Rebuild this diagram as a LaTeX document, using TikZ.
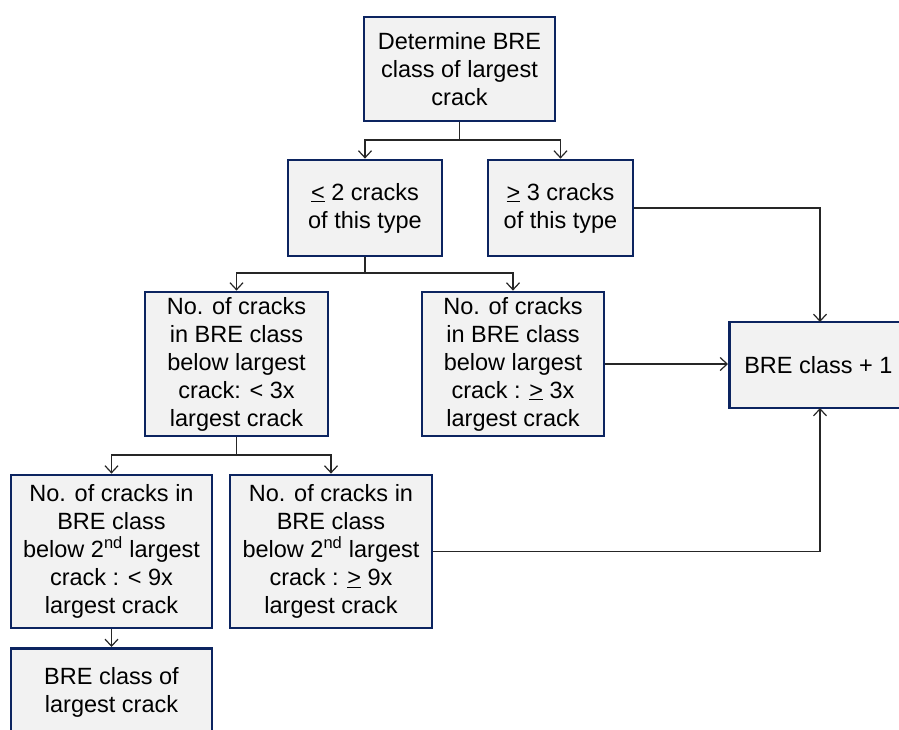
\documentclass[tikz,border=0pt]{standalone}
\usepackage{fontspec}
\setmainfont{Liberation Sans}
\usetikzlibrary{arrows.meta}
\definecolor{boxfill}{RGB}{242,242,242}
\definecolor{boxline}{RGB}{12,36,96}
\tikzset{
  box/.style={draw=boxline, fill=boxfill, line width=2.8pt, align=center, inner sep=0pt,
    font=\fontsize{23.5}{28}\selectfont},
  conn/.style={line width=1.2pt, draw=black!85, -{Straight Barb[length=7pt,width=13pt,line width=1.2pt]}},
  plain/.style={line width=1.2pt, draw=black!85}
}
\begin{document}
\begin{tikzpicture}[x=1pt,y=-1pt]
\useasboundingbox (0,0) rectangle (899,729);
\node[box, minimum width=191pt, minimum height=104pt] (top) at (459.5,69) {Determine BRE\\class of largest\\crack};
\node[box, minimum width=154pt, minimum height=96pt] (le2) at (365,208) {\underline{<} 2 cracks\\of this type};
\node[box, minimum width=145pt, minimum height=96pt] (ge3) at (560.5,208) {\underline{>} 3 cracks\\of this type};
\node[box, minimum width=183pt, minimum height=144pt] (ml) at (236.5,364) {No. of cracks\\in BRE class\\below largest\\crack: < 3x\\largest crack};
\node[box, minimum width=182pt, minimum height=144pt] (mr) at (513,364) {No. of cracks\\in BRE class\\below largest\\crack : \underline{>} 3x\\largest crack};
\node[box, minimum width=178pt, minimum height=86pt, anchor=west] (plus) at (728,365) {BRE class + 1};
\node[box, minimum width=201pt, minimum height=153pt] (bl) at (111.5,551.5) {No. of cracks in\\BRE class\\below 2\textsuperscript{nd} largest\\crack : < 9x\\largest crack};
\node[box, minimum width=202pt, minimum height=153pt] (br) at (331,551.5) {No. of cracks in\\BRE class\\below 2\textsuperscript{nd} largest\\crack : \underline{>} 9x\\largest crack};
\node[box, minimum width=201pt, minimum height=88pt, anchor=north] (last) at (111.5,647) {BRE class of\\largest crack};
\coordinate (j1) at (459.5,140);
\coordinate (j2) at (365,273);
\coordinate (j3) at (236.5,455);
\draw[plain] (top.south) -- (j1);
\draw[conn] (j1) -| (le2.north);
\draw[conn] (j1) -| (ge3.north);
\draw[plain] (le2.south) -- (j2);
\draw[conn] (j2) -| (ml.north);
\draw[conn] (j2) -| (mr.north);
\draw[plain] (ml.south) -- (j3);
\draw[conn] (j3) -| (bl.north);
\draw[conn] (j3) -| (br.north);
\draw[conn] (bl.south) -- (last.north);
\draw[conn] (ge3.east) -| (820,322);
\draw[conn] (mr.east) -- (plus.west |- mr.east);
\draw[conn] (br.east) -| (820,408);
\end{tikzpicture}
\end{document}
